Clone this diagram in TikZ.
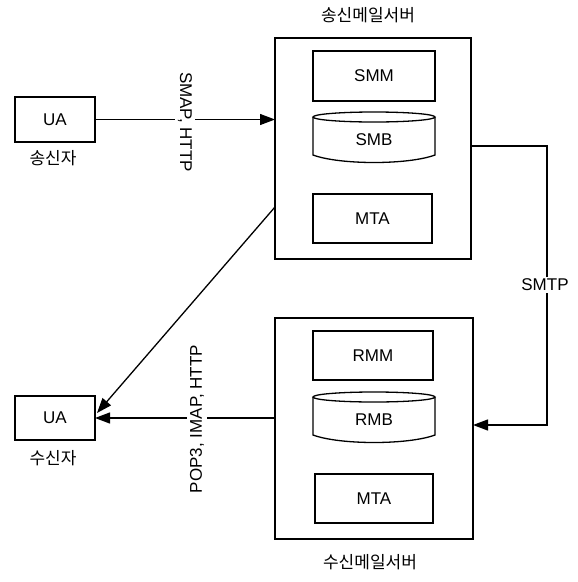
\documentclass[tikz,border=0pt]{standalone}
\usepackage{fontspec}
\setmainfont{Liberation Sans}
\newfontfamily\kor{Noto Sans CJK KR}
\usetikzlibrary{arrows.meta,calc}
\begin{document}
\begin{tikzpicture}[x=1pt,y=-1pt,
  every node/.style={inner sep=0pt,outer sep=0pt},
  box/.style={draw,line width=1.3pt,font=\fontsize{17}{20}\selectfont},
  lab/.style={font=\fontsize{17}{20}\selectfont},
  klab/.style={font=\kor\fontsize{17}{20}\selectfont},
  conn/.style={line width=1.3pt},
  arr/.style={conn,-{Triangle[length=15pt,width=11pt]}},
  onl/.style={lab,fill=white,inner sep=3pt}]
\useasboundingbox[fill=white] (0,0) rectangle (578,582);
% sending server
\node[box,minimum width=196pt,minimum height=221pt] (srv1) at (373,148.5) {};
\node[box,minimum width=122pt,minimum height=50pt] (smm) at (374,76) {SMM};
\draw[line width=1.3pt] (313,117) -- (313,155) .. controls (340,165) and (408,165) .. (435,155) -- (435,117);
\draw[line width=1.3pt] (374,117) ellipse [x radius=61, y radius=5];
\node[lab] (smb) at (374,140) {SMB};
\node[box,minimum width=119pt,minimum height=49pt] (mta1) at (372.5,218.5) {MTA};
\node[klab] (t1) at (368,15) {송신메일서버};
% receiving server
\node[box,minimum width=198pt,minimum height=221pt] (srv2) at (374,428.5) {};
\node[box,minimum width=120pt,minimum height=49pt] (rmm) at (373,355.5) {RMM};
\draw[line width=1.3pt] (313,397) -- (313,435) .. controls (340,445) and (408,445) .. (435,435) -- (435,397);
\draw[line width=1.3pt] (374,397) ellipse [x radius=61, y radius=5];
\node[lab] (rmb) at (374,420) {RMB};
\node[box,minimum width=118pt,minimum height=49pt] (mta2) at (374,498.5) {MTA};
\node[klab] (t2) at (370,562) {수신메일서버};
% user agents
\node[box,minimum width=80pt,minimum height=45pt] (ua1) at (55,119.5) {UA};
\node[klab] (s1) at (53,158) {송신자};
\node[box,minimum width=80pt,minimum height=44pt] (ua2) at (55,418) {UA};
\node[klab] (s2) at (53,458) {수신자};
% connectors
\draw[arr] (ua1.east) -- (ua1.east -| srv1.west);
\node[onl,rotate=-90] (smap) at (185,122) {SMAP, HTTP};
\coordinate (c1) at (547,146);
\coordinate (c2) at (547,425);
\draw[arr] (c1 -| srv1.east) -- (c1) -- (c2) -- (c2 -| srv2.east);
\node[onl,inner sep=2pt] (smtp) at (545,285) {SMTP};
\coordinate (d1) at (275,207);
\coordinate (ua2t) at ($(ua2.east)+(2,-5)$);
\draw[arr] (d1) -- (ua2t);
\draw[arr] (ua2.east -| srv2.west) -- (ua2.east);
\node[onl,rotate=90] (pop) at (197,419) {POP3, IMAP, HTTP};
\end{tikzpicture}
\end{document}
